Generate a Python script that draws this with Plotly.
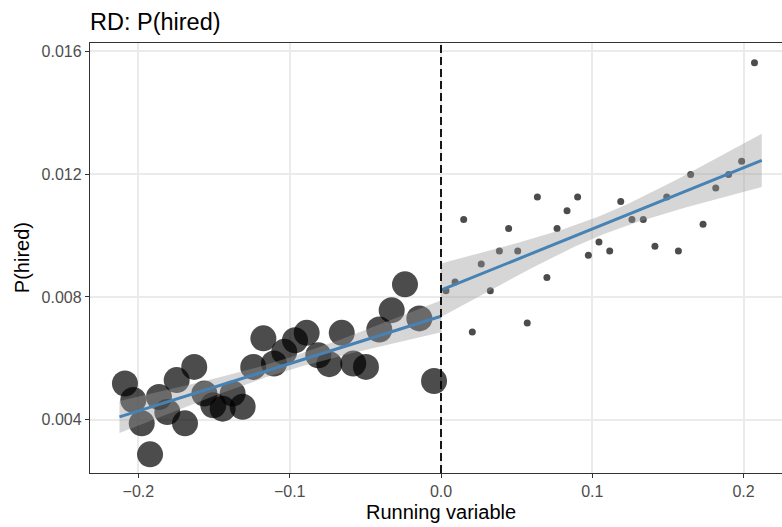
import numpy as np
import plotly.graph_objects as go

# Binned means of the outcome, left of the cutoff
bin_x_left = [-0.2089, -0.2034, -0.1978, -0.1923, -0.1864, -0.1809, -0.1747, -0.1692,
              -0.1631, -0.1564, -0.1505, -0.1443, -0.1377, -0.1311, -0.1241, -0.1174,
              -0.1104, -0.1036, -0.0965, -0.0888, -0.0811, -0.0738, -0.0656, -0.0580,
              -0.0496, -0.0408, -0.0326, -0.0238, -0.0143, -0.0046]
bin_y_left = [0.00518, 0.00464, 0.00388, 0.00287, 0.00474, 0.00425, 0.00529, 0.00388,
              0.00572, 0.00485, 0.00447, 0.00436, 0.00485, 0.00442, 0.00572, 0.00665,
              0.00583, 0.00621, 0.00659, 0.00683, 0.00610, 0.00581, 0.00683, 0.00583,
              0.00572, 0.00694, 0.00757, 0.00841, 0.00730, 0.00526]

# Binned means of the outcome, right of the cutoff
bin_x_right = [0.0033, 0.0093, 0.0150, 0.0207, 0.0266, 0.0326, 0.0386, 0.0447,
               0.0507, 0.0570, 0.0637, 0.0700, 0.0767, 0.0833, 0.0903, 0.0974,
               0.1044, 0.1115, 0.1188, 0.1262, 0.1337, 0.1414, 0.1492, 0.1569,
               0.1650, 0.1732, 0.1816, 0.1901, 0.1987, 0.2072]
bin_y_right = [0.00820, 0.00849, 0.01052, 0.00686, 0.00907, 0.00820, 0.00950, 0.01023,
               0.00950, 0.00715, 0.01126, 0.00863, 0.01023, 0.01081, 0.01126, 0.00936,
               0.00979, 0.00950, 0.01111, 0.01052, 0.01052, 0.00965, 0.01126, 0.00950,
               0.01199, 0.01037, 0.01155, 0.01199, 0.01242, 0.01563]

# Linear fits on each side: end points and confidence half-widths (centre, ends)
fit_x_left = [-0.2125, 0.0]
fit_y_left = [0.00409, 0.00737]
band_left = [0.00020, 0.00052]

fit_x_right = [0.0, 0.2120]
fit_y_right = [0.00822, 0.01245]
band_right = [0.00032, 0.00087]

x_ticks = [-0.2, -0.1, 0.0, 0.1, 0.2]
x_tick_text = ["\u22120.2", "\u22120.1", "0.0", "0.1", "0.2"]
y_ticks = [0.004, 0.008, 0.012, 0.016]
y_tick_text = ["0.004", "0.008", "0.012", "0.016"]


def fit_band(fx, fy, half, n=80):
    xs = np.linspace(fx[0], fx[1], n)
    centre = (fx[0] + fx[1]) / 2
    span = (fx[1] - fx[0]) / 2
    line = fy[0] + (fy[1] - fy[0]) * (xs - fx[0]) / (fx[1] - fx[0])
    h = np.sqrt(half[0] ** 2 + (half[1] ** 2 - half[0] ** 2) * ((xs - centre) / span) ** 2)
    return xs, line - h, line + h


FONT = "Liberation Sans, Arial, Helvetica, sans-serif"
POINT = "rgba(0,0,0,0.7)"
RIBBON = "rgba(153,153,153,0.4)"
LINE = "#4682B4"

fig = go.Figure()

fig.add_trace(go.Scatter(x=bin_x_left, y=bin_y_left, mode="markers",
                         marker=dict(size=26, color=POINT, line=dict(width=0)),
                         hoverinfo="skip"))
fig.add_trace(go.Scatter(x=bin_x_right, y=bin_y_right, mode="markers",
                         marker=dict(size=7, color=POINT, line=dict(width=0)),
                         hoverinfo="skip"))

for fx, fy, half in [(fit_x_left, fit_y_left, band_left),
                     (fit_x_right, fit_y_right, band_right)]:
    xs, lo, hi = fit_band(fx, fy, half)
    fig.add_trace(go.Scatter(x=np.concatenate([xs, xs[::-1]]),
                             y=np.concatenate([lo, hi[::-1]]),
                             fill="toself", fillcolor=RIBBON,
                             line=dict(width=0), mode="lines", hoverinfo="skip"))
    fig.add_trace(go.Scatter(x=fx, y=fy, mode="lines",
                             line=dict(color=LINE, width=3), hoverinfo="skip"))

# Cutoff
fig.add_shape(type="line", xref="x", yref="paper", x0=0, x1=0, y0=0, y1=1,
              line=dict(color="black", width=1.8, dash="8px,4px"), layer="above")

axis_common = dict(showgrid=True, gridcolor="#EBEBEB", gridwidth=1.5,
                   zeroline=False, showline=True, linecolor="#333333", linewidth=1.3,
                   ticks="outside", ticklen=4, tickwidth=1.3, tickcolor="#333333",
                   tickfont=dict(family=FONT, size=16, color="#4D4D4D"))

fig.update_xaxes(range=[-0.23199, 0.22538], tickvals=x_ticks, ticktext=x_tick_text,
                 mirror=True, **axis_common)
fig.update_yaxes(range=[0.002263, 0.016274], tickvals=y_ticks, ticktext=y_tick_text,
                 mirror=False, **axis_common)

fig.add_annotation(text="Running variable", xref="paper", yref="paper",
                   x=0.5072, y=-0.09, xanchor="center", yanchor="middle",
                   showarrow=False, font=dict(family=FONT, size=20, color="black"))
fig.add_annotation(text="P(hired)", xref="paper", yref="paper",
                   x=-0.098, y=0.5, xanchor="center", yanchor="middle", textangle=-90,
                   showarrow=False, font=dict(family=FONT, size=20, color="black"))

fig.update_layout(
    width=782, height=527,
    margin=dict(l=90, r=0, t=43, b=54),
    plot_bgcolor="white", paper_bgcolor="white",
    showlegend=False,
    title=dict(text="RD: P(hired)", xref="paper", x=0, xanchor="left",
               yref="container", y=1 - 21.5 / 527, yanchor="middle",
               font=dict(family=FONT, size=23.5, color="black")),
)

fig.write_html("out.html")
